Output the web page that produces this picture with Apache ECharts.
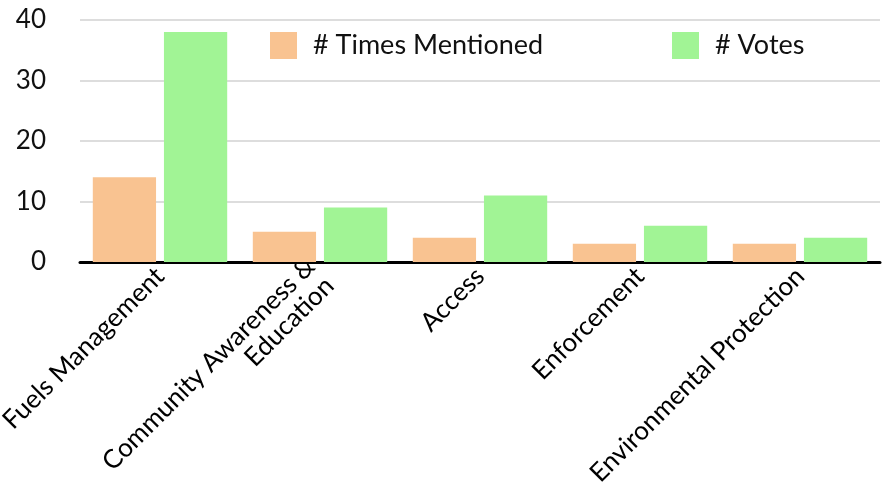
<!DOCTYPE html>
<html>
<head>
<meta charset="utf-8">
<script src="https://cdn.jsdelivr.net/npm/echarts@6/dist/echarts.min.js"></script>
<style>
  html, body { margin: 0; padding: 0; background: #fff; }
  #chart { width: 887px; height: 494px; }
</style>
</head>
<body>
<div id="chart"></div>
<script>
// data
const categories = [
  "Fuels Management",
  "Community Awareness &\nEducation",
  "Access",
  "Enforcement",
  "Environmental Protection",
];
const timesMentioned = [14, 5, 4, 3, 3];
const votes = [38, 9, 11, 6, 4];
const yTicks = { min: 0, max: 40, interval: 10 };

const FONT = "Lato";
const chart = echarts.init(document.getElementById("chart"));

const legendBase = {
  top: 27,
  itemWidth: 27,
  itemHeight: 27,
  icon: "rect",
  textStyle: { fontFamily: FONT, fontSize: 27, color: "#111", padding: [0, 0, 0, 11] },
};

const option = {
  animation: false,
  grid: { left: 80, right: 7, top: 20, bottom: 232, outerBoundsMode: "none" },
  legend: [
    Object.assign({ left: 265, data: ["# Times Mentioned"] }, legendBase),
    Object.assign({ left: 667, data: ["# Votes"] }, legendBase),
  ],
  xAxis: {
    type: "category",
    data: categories,
    axisLine: { lineStyle: { color: "#000", width: 3 } },
    axisTick: { show: false },
    axisLabel: {
      rotate: 45,
      interval: 0,
      margin: 10,
      padding: [9, 0, 0, 0],
      fontFamily: FONT,
      fontSize: 26,
      color: "#000",
      lineHeight: 27,
    },
  },
  yAxis: {
    type: "value",
    min: yTicks.min,
    max: yTicks.max,
    interval: yTicks.interval,
    axisLine: { show: false },
    axisTick: { show: false },
    axisLabel: { fontFamily: FONT, fontSize: 26, color: "#111", margin: 34 },
    splitLine: { lineStyle: { color: "#d2d2d2", width: 1.5 } },
  },
  series: [
    {
      name: "# Times Mentioned",
      type: "bar",
      data: timesMentioned,
      itemStyle: { color: "#F9C391" },
      barGap: "12.5%",
      barCategoryGap: "16%",
    },
    {
      name: "# Votes",
      type: "bar",
      data: votes,
      itemStyle: { color: "#A1F495" },
    },
  ],
};

chart.setOption(option);
</script>
</body>
</html>
